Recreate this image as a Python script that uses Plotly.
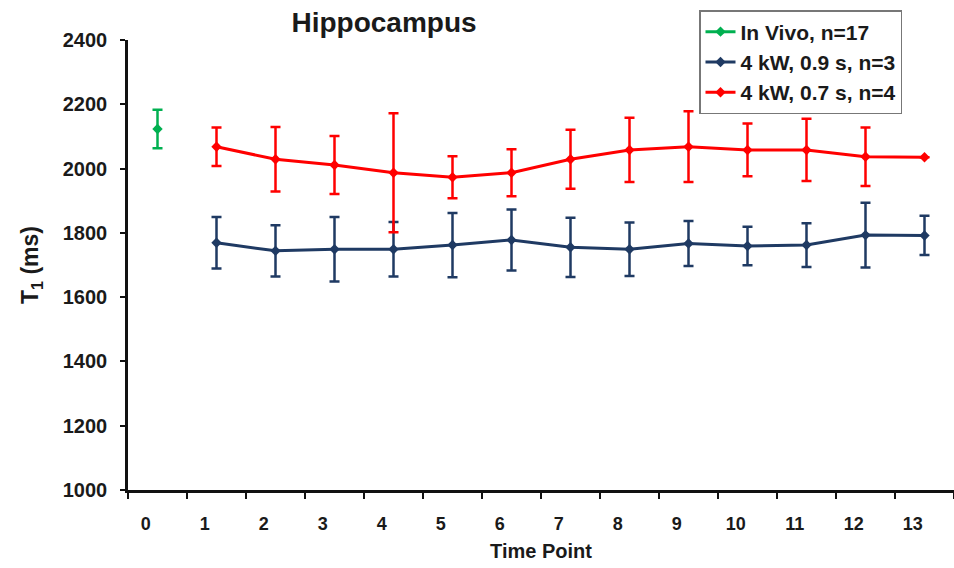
import plotly.graph_objects as go

# ---- data ----
time_labels = ["0", "1", "2", "3", "4", "5", "6", "7", "8", "9", "10", "11", "12", "13"]

invivo_x = [0]
invivo_y = [2123]
invivo_err = [60]

kw09_x = [1, 2, 3, 4, 5, 6, 7, 8, 9, 10, 11, 12, 13]
kw09_y = [1769, 1744, 1749, 1749, 1762, 1778, 1755, 1749, 1767, 1759, 1762, 1793, 1792]
kw09_err = [80, 80, 100, 85, 100, 95, 92, 83, 70, 60, 68, 101, 61]

kw07_x = [1, 2, 3, 4, 5, 6, 7, 8, 9, 10, 11, 12, 13]
kw07_y = [2068, 2029, 2011, 1987, 1973, 1987, 2029, 2058, 2068, 2058, 2058, 2037, 2035]
kw07_err = [60, 100, 90, 185, 65, 73, 92, 100, 110, 82, 97, 91, 0]

GREEN = "#00B050"
NAVY = "#1F3A63"
RED = "#FF0000"
FONT = "Liberation Sans, Arial, sans-serif"
TXT = "#1a1a1a"

fig = go.Figure()


def add_series(x, y, err, name, color):
    fig.add_trace(go.Scatter(
        x=x, y=y, name=name, mode="lines+markers",
        line=dict(color=color, width=3),
        marker=dict(symbol="diamond", size=8, color=color),
        error_y=dict(type="data", array=err, visible=True,
                     color=color, thickness=2.5, width=5),
    ))


add_series(invivo_x, invivo_y, invivo_err, "In Vivo, n=17", GREEN)
add_series(kw09_x, kw09_y, kw09_err, "4 kW, 0.9 s, n=3", NAVY)
add_series(kw07_x, kw07_y, kw07_err, "4 kW, 0.7 s, n=4", RED)

# invisible trace to carry the tick-label axis
label_pos = [i - 0.2 for i in range(len(time_labels))]
fig.add_trace(go.Scatter(x=[label_pos[0]], y=[1000], xaxis="x2", mode="markers",
                         marker=dict(opacity=0), showlegend=False, hoverinfo="skip"))

fig.update_layout(
    width=954, height=568,
    margin=dict(l=128, r=0, t=40, b=78),
    paper_bgcolor="white", plot_bgcolor="white",
    font=dict(family=FONT, color=TXT, weight="bold"),
    title=dict(text="Hippocampus", x=384 / 954, xanchor="center",
               y=1 - 22 / 568, yanchor="middle",
               font=dict(size=28, family=FONT, weight="bold", color=TXT)),
    xaxis=dict(range=[-0.5, 13.5], tick0=-0.5, dtick=1, ticks="outside",
               ticklen=6, tickwidth=2, tickcolor="#111", showticklabels=False,
               showline=True, linecolor="#111", linewidth=3, showgrid=False,
               zeroline=False,
               title=dict(text="Time Point", standoff=46,
                          font=dict(size=20, family=FONT, weight="bold", color=TXT))),
    xaxis2=dict(range=[-0.5, 13.5], overlaying="x", anchor="y", side="bottom",
                tickmode="array", tickvals=label_pos, ticktext=time_labels,
                ticks="", ticklen=0, ticklabelstandoff=21,
                showline=False, showgrid=False, zeroline=False,
                tickfont=dict(size=18, family=FONT, weight="bold", color=TXT)),
    yaxis=dict(range=[1000, 2400], tick0=1000, dtick=200, ticks="outside",
               ticklen=5, tickwidth=2, tickcolor="#111", ticklabelstandoff=9,
               showline=True, linecolor="#111", linewidth=2.5, showgrid=False,
               zeroline=False,
               tickfont=dict(size=20, family=FONT, weight="bold", color=TXT),
               title=dict(text="T<sub>1</sub> (ms)", standoff=18,
                          font=dict(size=23, family=FONT, weight="bold", color=TXT))),
    legend=dict(x=(699 - 128) / 826, xanchor="left", y=(490 - 10) / 450, yanchor="top",
                bgcolor="white", bordercolor="#777", borderwidth=1.5,
                font=dict(size=21, family=FONT, weight="bold", color=TXT),
                tracegroupgap=0, itemwidth=30),
    showlegend=True,
)

fig.write_html("out.html", config={"displayModeBar": False})

# remove the default page margin so the figure sits at the window origin
with open("out.html", "r", encoding="utf-8") as f:
    html = f.read()
html = html.replace("<body>", '<body style="margin:0;padding:0;overflow:hidden">', 1)
with open("out.html", "w", encoding="utf-8") as f:
    f.write(html)
